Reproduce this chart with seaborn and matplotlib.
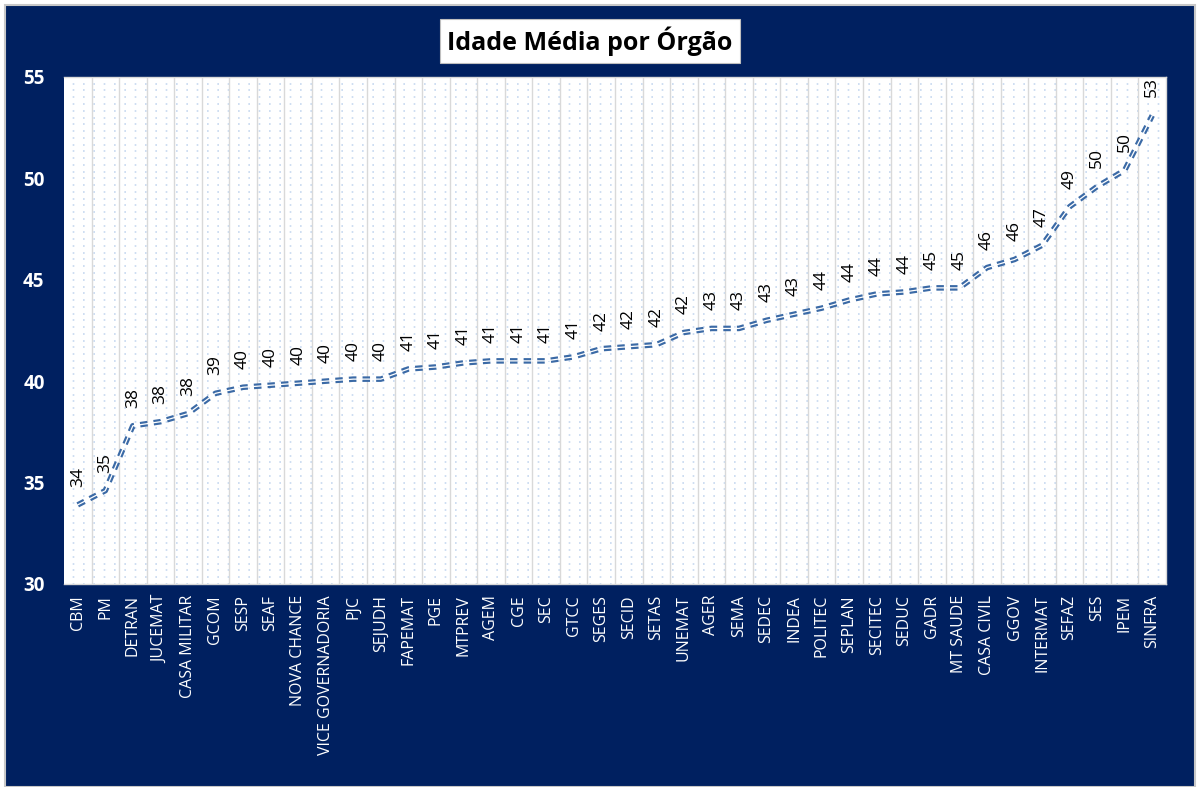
import numpy as np
import pandas as pd
import matplotlib
matplotlib.use('Agg')
import matplotlib.pyplot as plt
import seaborn as sns
from matplotlib.patches import Rectangle

# Data
orgaos = ['CBM', 'PM', 'DETRAN', 'JUCEMAT', 'CASA MILITAR', 'GCOM', 'SESP', 'SEAF',
          'NOVA CHANCE', 'VICE GOVERNADORIA', 'PJC', 'SEJUDH', 'FAPEMAT', 'PGE',
          'MTPREV', 'AGEM', 'CGE', 'SEC', 'GTCC', 'SEGES', 'SECID', 'SETAS',
          'UNEMAT', 'AGER', 'SEMA', 'SEDEC', 'INDEA', 'POLITEC', 'SEPLAN', 'SECITEC',
          'SEDUC', 'GADR', 'MT SAUDE', 'CASA CIVIL', 'GGOV', 'INTERMAT', 'SEFAZ',
          'SES', 'IPEM', 'SINFRA']
idade_media = [33.9, 34.6, 37.8, 38.0, 38.4, 39.4, 39.7, 39.8, 39.9, 40.0,
               40.1, 40.1, 40.6, 40.7, 40.9, 41.0, 41.0, 41.0, 41.2, 41.6,
               41.7, 41.8, 42.4, 42.6, 42.6, 43.0, 43.3, 43.6, 44.0, 44.3,
               44.4, 44.6, 44.6, 45.6, 46.0, 46.7, 48.6, 49.6, 50.4, 53.1]
y_ticks = [30, 35, 40, 45, 50, 55]

navy = '#002060'
line_color = '#3b6aa6'

df = pd.DataFrame({'pos': np.arange(len(orgaos)), 'orgao': orgaos, 'idade': idade_media})

sns.set_style('white')
plt.rcParams['font.family'] = ['Open Sans', 'DejaVu Sans']

fig = plt.figure(figsize=(12, 7.87), dpi=100, facecolor='white')
# navy frame behind everything
fig.patches.append(Rectangle((0.004, 0), 0.992, 0.994, transform=fig.transFigure,
                             facecolor=navy, edgecolor='#c8c8c8', lw=1.5, zorder=-10))
ax = fig.add_axes([0.0533, 0.258, 0.9184, 0.6442])
ax.set_facecolor('white')

# dotted background pattern
for yy in np.arange(30, 55, 1 / 3):
    ax.axhline(yy, color='#c6d8f0', lw=1.2, linestyle=(1, (1, 5.2)), zorder=0)
# category separators
for xb in np.arange(0.5, len(orgaos) - 0.5, 1):
    ax.axvline(xb, color='#d9d9d9', lw=1, zorder=1)

sns.lineplot(data=df, x='pos', y='idade', ax=ax, color=line_color, lw=4.0, zorder=3)
ln = ax.lines[-1]
ln.set_dashes((1.35, 1.1))
ln.set_dash_capstyle('butt')
ax.plot(df['pos'], df['idade'], color='white', lw=0.9, zorder=4)

for i, v in enumerate(idade_media):
    ax.annotate(f"{int(np.floor(v + 0.5))}", (i, v), xytext=(0, 13),
                textcoords='offset points', rotation=90, ha='center', va='bottom',
                fontsize=12.5, color='black', zorder=5)

ax.set_xlim(-0.5, len(orgaos) - 0.5)
ax.set_ylim(30, 55)
ax.set_yticks(y_ticks)
ax.set_yticklabels([str(t) for t in y_ticks], color='white', fontweight='bold', fontsize=13.5)
ax.set_xticks(df['pos'])
ax.set_xticklabels(orgaos, rotation=90, color='white', fontsize=11.5)
ax.set_xticks(np.arange(-0.5, len(orgaos), 1), minor=True)
ax.tick_params(axis='x', which='major', length=0, pad=8)
ax.tick_params(axis='x', which='minor', length=5, color='#bfbfbf', width=1, direction='out')
ax.tick_params(axis='y', length=0, pad=14)
ax.set_xlabel('')
ax.set_ylabel('')
for s in ['top', 'right', 'bottom']:
    ax.spines[s].set_color('#d9d9d9')
    ax.spines[s].set_linewidth(1)
ax.spines['left'].set_visible(False)

fig.text(0.4915, 0.948, 'Idade Média por Órgão', ha='center', va='center',
         fontsize=18, fontweight='bold', color='black',
         bbox=dict(boxstyle='square,pad=0.3', facecolor='white', edgecolor='#bfbfbf', lw=0.8))

fig.savefig('out.png', dpi=100, facecolor=fig.get_facecolor())
